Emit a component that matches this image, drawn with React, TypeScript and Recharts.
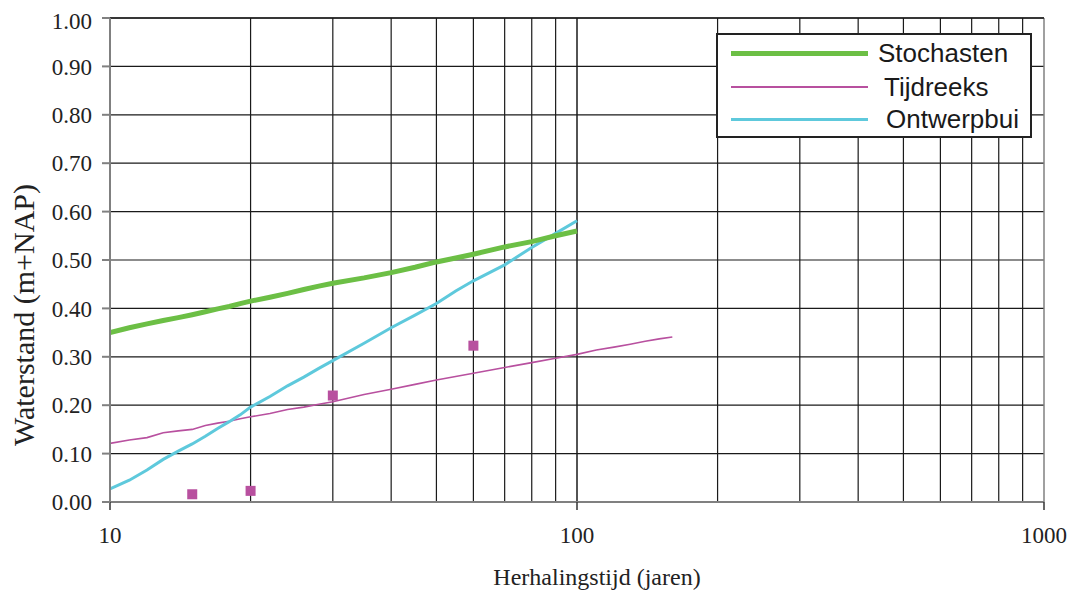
import React from "react";
import {
  ComposedChart, Line, Scatter, XAxis, YAxis, CartesianGrid, ReferenceLine,
} from "recharts";

// Herhalingstijd (jaren) -> waterstand (m+NAP)
const STOCH_T = [10, 11, 12, 13, 14, 15, 16, 17, 18, 19, 20, 22, 24, 26, 28, 30, 35, 40, 45, 50, 55, 60, 70, 80, 90, 100];
const STOCH_H = [0.350, 0.360, 0.368, 0.375, 0.381, 0.387, 0.393, 0.399, 0.404, 0.410, 0.415, 0.423, 0.431, 0.439, 0.446, 0.452, 0.463, 0.474, 0.485, 0.496, 0.504, 0.512, 0.527, 0.538, 0.550, 0.560];

const TIJD_T = [10, 11, 12, 13, 14, 15, 16, 17, 18, 19, 20, 22, 24, 26, 28, 30, 35, 40, 45, 50, 60, 70, 80, 90, 100, 110, 120, 130, 140, 150, 160];
const TIJD_H = [0.121, 0.128, 0.133, 0.143, 0.147, 0.150, 0.158, 0.163, 0.167, 0.172, 0.176, 0.183, 0.191, 0.196, 0.202, 0.207, 0.222, 0.233, 0.243, 0.252, 0.266, 0.278, 0.288, 0.297, 0.305, 0.314, 0.320, 0.326, 0.332, 0.337, 0.341];

const ONTW_T = [10, 11, 12, 13, 14, 15, 16, 17, 18, 19, 20, 22, 24, 26, 28, 30, 35, 40, 45, 50, 55, 60, 70, 80, 90, 100];
const ONTW_H = [0.027, 0.045, 0.066, 0.088, 0.105, 0.120, 0.136, 0.152, 0.166, 0.180, 0.196, 0.218, 0.240, 0.258, 0.276, 0.292, 0.328, 0.360, 0.386, 0.410, 0.436, 0.457, 0.490, 0.526, 0.555, 0.581];

// losse punten (tijdreeks)
const PUNT_T = [15, 20, 30, 60];
const PUNT_H = [0.016, 0.023, 0.220, 0.323];

const X_TICKS = [10, 100, 1000];
const X_GRID = [20, 30, 40, 50, 60, 70, 80, 90, 100, 200, 300, 400, 500, 600, 700, 800, 900];
const Y_TICKS = [0, 0.1, 0.2, 0.3, 0.4, 0.5, 0.6, 0.7, 0.8, 0.9, 1.0];

const GREEN = "#6cbf45";
const MAGENTA = "#b8509f";
const CYAN = "#5ec9dc";

const SERIES = [
  { name: "Stochasten", color: GREEN, width: 5, pad: 0 },
  { name: "Tijdreeks", color: MAGENTA, width: 2, pad: 6 },
  { name: "Ontwerpbui", color: CYAN, width: 3, pad: 8 },
];

const zip = (t: number[], h: number[]) => t.map((x, i) => ({ t: x, h: h[i] }));

const stoch = zip(STOCH_T, STOCH_H);
const tijd = zip(TIJD_T, TIJD_H);
const ontw = zip(ONTW_T, ONTW_H);
const punten = zip(PUNT_T, PUNT_H);

const SERIF = '"Liberation Serif", "Times New Roman", serif';
const SANS = '"Liberation Sans", Arial, sans-serif';
const AXIS = "#808080";
const GRID = "#1a1a1a";

function LegendBox() {
  return (
    <div style={{
      position: "absolute", left: 708, top: 25,
      width: 312, height: 101, border: "2px solid #222", background: "#fff",
      fontFamily: SANS, fontSize: 26, color: "#1a1a1a",
    }}>
      {SERIES.map((s, i) => (
        <div key={s.name} style={{ position: "absolute", left: 0, top: [1, 35, 67][i], height: 34,
          display: "flex", alignItems: "center", whiteSpace: "nowrap" }}>
          <div style={{ marginLeft: 13, width: 137, height: s.width, background: s.color }} />
          <span style={{ marginLeft: 10 + s.pad }}>{s.name}</span>
        </div>
      ))}
    </div>
  );
}

const Square = (p: any) => (
  <rect x={p.cx - 5} y={p.cy - 5} width={10} height={10} fill={MAGENTA} />
);

export default function App() {
  return (
    <div style={{ position: "relative", width: 1059, height: 588, background: "#fff" }}>
      <ComposedChart width={1059} height={588} margin={{ top: 10, right: 23, bottom: 8, left: 0 }}>
        <CartesianGrid vertical={false} stroke={GRID} strokeWidth={1.2} />
        {X_GRID.map(v => (
          <ReferenceLine key={v} x={v} stroke={GRID} strokeWidth={v === 100 ? 1.5 : 1.2} />
        ))}
        <ReferenceLine x={1000} stroke={AXIS} strokeWidth={1.5} />
        <ReferenceLine y={1} stroke={GRID} strokeWidth={1.5} />
        <XAxis
          dataKey="t"
          type="number"
          scale="log"
          domain={[10, 1000]}
          ticks={X_TICKS}
          allowDataOverflow
          height={86}
          stroke={AXIS}
          strokeWidth={2}
          tickSize={8}
          tickMargin={17}
          tickLine={{ stroke: "#333", strokeWidth: 1.5 }}
          tick={{ fontSize: 23, fontFamily: SERIF, fill: "#222" }}
          label={(p: any) => (
            <text x={p.viewBox.x + p.viewBox.width / 2 + 20} y={p.viewBox.y + 83} textAnchor="middle"
              fontSize={24} fontFamily={SERIF} fill="#222">Herhalingstijd (jaren)</text>
          )}
        />
        <YAxis
          dataKey="h"
          type="number"
          domain={[0, 1]}
          ticks={Y_TICKS}
          width={102}
          stroke={AXIS}
          strokeWidth={2}
          tickSize={8}
          tickMargin={10}
          tickLine={{ stroke: AXIS }}
          tickFormatter={(v: number) => v.toFixed(2)}
          tick={{ fontSize: 23, fontFamily: SERIF, fill: "#222" }}
          label={(p: any) => {
            const cx = 15;
            const cy = p.viewBox.y + p.viewBox.height / 2 + 55;
            return (
              <text x={cx} y={cy} transform={`rotate(-90 ${cx} ${cy})`} textAnchor="middle"
                dominantBaseline="central" fontSize={30} fontFamily={SERIF} fill="#222">
                Waterstand (m+NAP)
              </text>
            );
          }}
        />
        <Line data={tijd} dataKey="h" name="Tijdreeks" stroke={MAGENTA} strokeWidth={1.6}
          dot={false} isAnimationActive={false} />
        <Line data={ontw} dataKey="h" name="Ontwerpbui" stroke={CYAN} strokeWidth={3}
          dot={false} isAnimationActive={false} />
        <Line data={stoch} dataKey="h" name="Stochasten" stroke={GREEN} strokeWidth={5}
          dot={false} isAnimationActive={false} />
        <Scatter data={punten} dataKey="h" fill={MAGENTA} shape={Square} isAnimationActive={false} />
      </ComposedChart>
      <LegendBox />
    </div>
  );
}
